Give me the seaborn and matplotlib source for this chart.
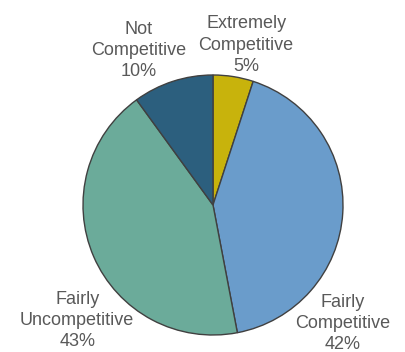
import matplotlib
matplotlib.use("Agg")
import matplotlib.pyplot as plt
import seaborn as sns

# Survey responses on market competitiveness (percent)
categories = ["Extremely\nCompetitive", "Fairly\nCompetitive", "Fairly\nUncompetitive", "Not\nCompetitive"]
shares = [5, 42, 43, 10]
colors = ["#C8B30C", "#6A9CCB", "#6BAB9A", "#2C5F7E"]

# Label anchor points (data units, pie radius = 1)
label_x = [0.255, 1.00, -1.045, -0.575]
label_y = [1.23, -0.91, -0.89, 1.19]

sns.set_theme(style="white")
plt.rcParams["font.family"] = ["Liberation Sans", "DejaVu Sans"]

fig = plt.figure(figsize=(4.06, 3.52), dpi=100)
ax = fig.add_axes([0, 0, 1, 1])

ax.pie(
    shares,
    colors=colors,
    startangle=90,
    counterclock=False,
    radius=1.0,
    wedgeprops=dict(edgecolor="#404040", linewidth=1.0),
)

for cat, val, x, y in zip(categories, shares, label_x, label_y):
    ax.text(x, y, f"{cat}\n{val}%", ha="center", va="center",
            fontsize=13, color="#595959", linespacing=1.32)

# center at (213, 205) px with radius ~130 px
ax.set_xlim(-213 / 130, (406 - 213) / 130)
ax.set_ylim(-(352 - 205) / 130, 205 / 130)
ax.set_aspect("auto")
ax.axis("off")

fig.savefig("out.png", dpi=100)
